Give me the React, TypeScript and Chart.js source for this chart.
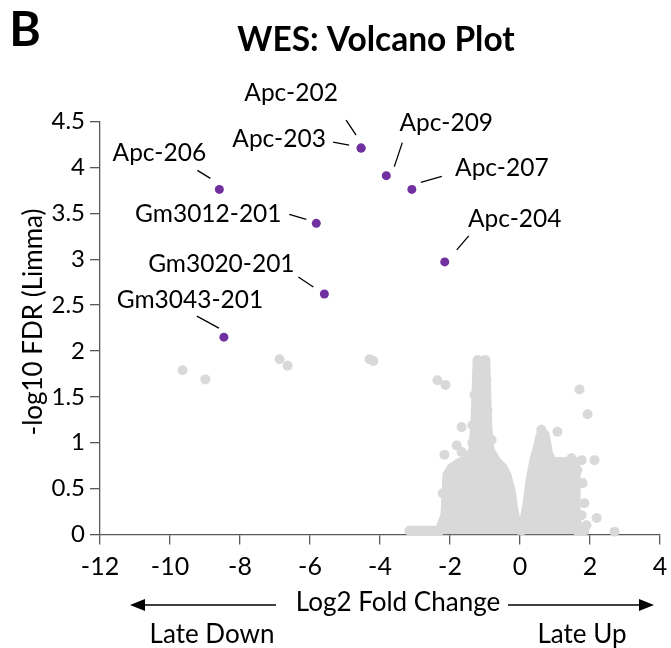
import { useEffect, useRef } from "react";
import { Chart, registerables } from "chart.js";
Chart.register(...registerables);

// ---- tick values ----
const xTicks = [-12, -10, -8, -6, -4, -2, 0, 2, 4];
const yTicks = [0, 0.5, 1, 1.5, 2, 2.5, 3, 3.5, 4, 4.5];

// ---- labelled genes ----
const geneLabels = ["Apc-202", "Apc-203", "Apc-209", "Apc-207", "Apc-206", "Gm3012-201", "Gm3020-201", "Gm3043-201", "Apc-204"];
const geneLog2FC = [-4.54, -4.54, -3.82, -3.09, -8.59, -5.82, -5.59, -8.46, -2.15];
const geneNegLog10FDR = [4.21, 4.21, 3.91, 3.76, 3.76, 3.39, 2.62, 2.15, 2.97];

// ---- dense cloud of non-significant transcripts (upper envelope) ----
const cloudX = [-3.16, -2.30, -2.13, -2.10, -2.07, -1.96, -1.73, -1.50, -1.33, -1.27, -1.24, -1.21, -0.99, -0.96, -0.93, -0.87, -0.67, -0.50, -0.39, -0.27, -0.19, -0.10, -0.01, 0.07, 0.21, 0.30, 0.41, 0.53, 0.59, 0.70, 0.76, 0.81, 0.93, 1.56, 1.59, 1.59, 1.64, 1.84];
const cloudY = [0.04, 0.04, 0.21, 0.43, 0.65, 0.72, 0.78, 0.81, 0.92, 1.25, 1.57, 1.89, 1.89, 1.46, 1.14, 0.92, 0.79, 0.73, 0.65, 0.48, 0.27, 0.10, 0.05, 0.05, 0.32, 0.59, 0.81, 0.97, 1.08, 1.09, 0.97, 0.87, 0.79, 0.79, 0.65, 0.27, 0.04, 0.04];

// ---- other individual grey transcripts ----
const grayX = [-9.64, -8.99, -6.87, -6.64, -4.30, -4.19, -2.36, -2.13, -1.67, -1.81, -2.16, -1.67, -1.36, -2.07, -2.21, -1.96, -1.21, -0.99, -0.96, -1.30, -0.93, -1.36, -0.81, 0.61, 1.07, 1.70, 1.93, 1.47, 1.76, 2.13, 1.79, 1.84, 1.76, 2.19, 1.90, 2.70, 1.64];
const grayY = [1.79, 1.69, 1.91, 1.84, 1.91, 1.89, 1.68, 1.63, 1.17, 0.97, 0.87, 0.90, 1.00, 0.63, 0.45, 0.29, 1.90, 1.90, 1.68, 1.52, 1.35, 1.19, 1.03, 1.14, 1.12, 1.58, 1.31, 0.83, 0.81, 0.81, 0.56, 0.34, 0.21, 0.18, 0.10, 0.03, 0.70];

// ---- label layout (pixel offsets from the point: text centre, leader line start/end) ----
const labelLayout = [
  { t: [-70, -55], a: [-5, -13], b: [-15, -28] },
  { t: [-82, -9], a: [-12, -3], b: [-28, -6] },
  { t: [60, -53], a: [8, -9], b: [16, -33] },
  { t: [90, -21], a: [9, -7], b: [30, -13] },
  { t: [-60, -36], a: [-9, -11], b: [-22, -19] },
  { t: [-108, -9], a: [-10, -4], b: [-27, -9] },
  { t: [-103, -30], a: [-11, -7], b: [-26, -17] },
  { t: [-34, -37], a: [-5, -9], b: [-27, -21] },
  { t: [70, -43], a: [12, -12], b: [24, -26] },
];

const FONT = "Lato";
const AXIS = "#595959";
const PURPLE = "#7030A0";
const GREY = "#D9D9D9";

function arrow(ctx: CanvasRenderingContext2D, x1: number, x2: number, y: number, tip: number) {
  ctx.beginPath();
  ctx.moveTo(x1, y);
  ctx.lineTo(x2, y);
  ctx.stroke();
  const dir = Math.sign(tip - x2);
  ctx.beginPath();
  ctx.moveTo(tip, y);
  ctx.lineTo(tip - dir * 15, y - 6);
  ctx.lineTo(tip - dir * 15, y + 6);
  ctx.closePath();
  ctx.fill();
}

const decorations = {
  id: "decorations",
  afterDraw(chart: any) {
    const { ctx, scales } = chart;
    const xs = scales.x;
    const ys = scales.y;
    ctx.save();
    ctx.fillStyle = "#000";
    ctx.strokeStyle = "#000";
    ctx.textAlign = "center";
    ctx.textBaseline = "middle";

    // annotations
    ctx.lineWidth = 1.3;
    ctx.font = `24.5px ${FONT}`;
    geneLabels.forEach((name, i) => {
      const px = xs.getPixelForValue(geneLog2FC[i]);
      const py = ys.getPixelForValue(geneNegLog10FDR[i]);
      const L = labelLayout[i];
      ctx.beginPath();
      ctx.moveTo(px + L.a[0], py + L.a[1]);
      ctx.lineTo(px + L.b[0], py + L.b[1]);
      ctx.stroke();
      ctx.fillText(name, px + L.t[0], py + L.t[1]);
    });

    // panel letter and title
    ctx.font = `bold 48px ${FONT}`;
    ctx.fillText("B", 25, 31);
    ctx.font = `bold 33.5px ${FONT}`;
    ctx.fillText("WES: Volcano Plot", 376, 40);

    // y axis title
    ctx.font = `26px ${FONT}`;
    ctx.save();
    ctx.translate(34, 322);
    ctx.rotate(-Math.PI / 2);
    ctx.fillText("-log10 FDR (Limma)", 0, 0);
    ctx.restore();

    // x axis title with arrows
    ctx.font = `26px ${FONT}`;
    ctx.fillText("Log2 Fold Change", 398, 603);
    ctx.lineWidth = 1.5;
    arrow(ctx, 276, 140, 605, 130);
    arrow(ctx, 508, 640, 605, 654);
    ctx.fillText("Late Down", 212, 635);
    ctx.fillText("Late Up", 582, 635);
    ctx.restore();
  },
};

export default function App() {
  const ref = useRef<HTMLCanvasElement>(null);
  useEffect(() => {
    Chart.defaults.font.family = FONT;
    const chart = new Chart(ref.current!, {
      type: "scatter",
      data: {
        datasets: [
          {
            label: "Labelled",
            data: geneLog2FC.map((x, i) => ({ x, y: geneNegLog10FDR[i] })),
            backgroundColor: PURPLE,
            borderWidth: 0,
            pointRadius: 4.5,
            clip: false,
          },
          {
            label: "Other",
            data: grayX.map((x, i) => ({ x, y: grayY[i] })),
            backgroundColor: GREY,
            borderWidth: 0,
            pointRadius: 5,
            clip: false,
          },
          {
            label: "Cloud",
            data: cloudX.map((x, i) => ({ x, y: cloudY[i] })),
            showLine: true,
            fill: "origin",
            backgroundColor: GREY,
            borderColor: GREY,
            borderWidth: 10,
            borderJoinStyle: "round",
            borderCapStyle: "round",
            pointRadius: 0,
            tension: 0,
            clip: false,
          } as any,
        ],
      },
      options: {
        animation: false,
        responsive: false,
        devicePixelRatio: 1,
        events: [],
        layout: { padding: { left: 0, top: 121.5, right: 11, bottom: 0 } },
        plugins: { legend: { display: false }, tooltip: { enabled: false }, title: { display: false } },
        scales: {
          x: {
            type: "linear",
            min: -12,
            max: 4,
            afterBuildTicks: (s: any) => {
              s.ticks = xTicks.map((v) => ({ value: v }));
            },
            afterFit: (s: any) => {
              s.height = 113.5;
              s.paddingLeft = 0;
              s.paddingRight = 0;
            },
            ticks: { color: "#000", font: { family: FONT, size: 25 }, padding: 7, maxRotation: 0, autoSkip: false, callback: (v: any) => String(v) },
            grid: { drawOnChartArea: false, drawTicks: true, tickLength: 10, color: AXIS, lineWidth: 1.3 },
            border: { color: AXIS, width: 1.3 },
          },
          y: {
            type: "linear",
            min: 0,
            max: 4.5,
            afterBuildTicks: (s: any) => {
              s.ticks = yTicks.map((v) => ({ value: v }));
            },
            afterFit: (s: any) => {
              s.width = 100;
              s.paddingTop = 0;
              s.paddingBottom = 0;
            },
            ticks: { color: "#000", font: { family: FONT, size: 24 }, padding: 5, autoSkip: false, callback: (v: any) => String(v) },
            grid: { drawOnChartArea: false, drawTicks: true, tickLength: 10, color: AXIS, lineWidth: 1.3 },
            border: { color: AXIS, width: 1.3 },
          },
        },
      },
      plugins: [decorations],
    });
    return () => chart.destroy();
  }, []);
  return (
    <div style={{ position: "absolute", left: 0, top: 0, width: 671, height: 648, background: "#fff" }}>
      <canvas ref={ref} width={671} height={648} style={{ display: "block" }} />
    </div>
  );
}
